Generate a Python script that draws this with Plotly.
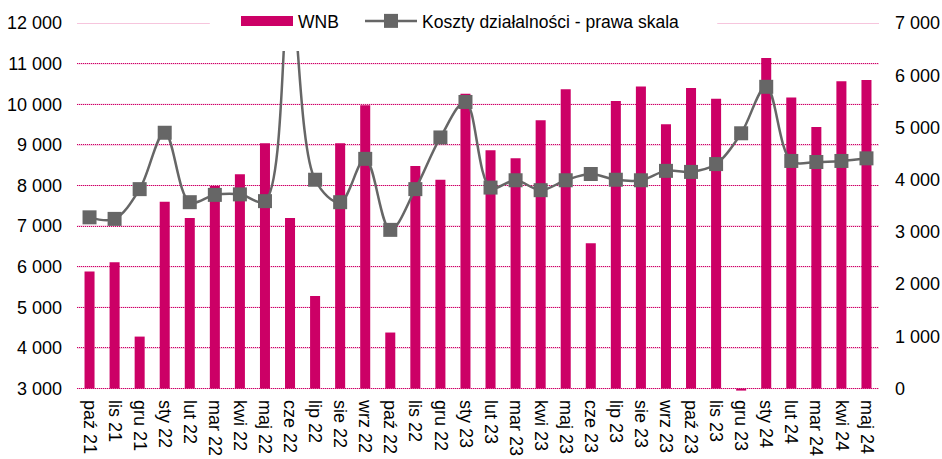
import plotly.graph_objects as go

months = ["paź 21", "lis 21", "gru 21", "sty 22", "lut 22", "mar 22", "kwi 22", "maj 22",
          "cze 22", "lip 22", "sie 22", "wrz 22", "paź 22", "lis 22", "gru 22", "sty 23",
          "lut 23", "mar 23", "kwi 23", "maj 23", "cze 23", "lip 23", "sie 23", "wrz 23",
          "paź 23", "lis 23", "gru 23", "sty 24", "lut 24", "mar 24", "kwi 24", "maj 24"]

wnb = [5880, 6110, 4280, 7600, 7200, 7990, 8280, 9040, 7200, 5280, 9040, 9980, 4380, 8480,
       8140, 10260, 8870, 8670, 9610, 10370, 6580, 10080, 10440, 9510, 10400, 10140, 2950,
       11140, 10170, 9440, 10570, 10600]

koszty = [3280, 3250, 3820, 4900, 3570, 3710, 3720, 3590, 7600, 4000, 3570, 4400, 3040, 3820,
          4810, 5490, 3850, 3990, 3800, 3990, 4110, 4000, 3990, 4170, 4150, 4300, 4890, 5780,
          4360, 4340, 4360, 4410]

left_ticks = [3000, 4000, 5000, 6000, 7000, 8000, 9000, 10000, 11000, 12000]
right_ticks = [0, 1000, 2000, 3000, 4000, 5000, 6000, 7000]

AXIS_CROSS = 3000  # bars grow from the horizontal axis crossing (3 000)
MAG = "#CC0066"
PINK = "#F0A0C8"
GREY = "#666666"
FONT = "Liberation Sans, Arial, sans-serif"
W, H = 942, 459

# axis ranges (slightly padded so that edge gridlines and the sub-axis bar stay visible)
LEFT_RANGE = [2940, 12003]
RATIO = 7000 / 9000
RIGHT_RANGE = [(LEFT_RANGE[0] - 3000) * RATIO, 7000 + (LEFT_RANGE[1] - 12000) * RATIO]

fig = go.Figure()

fig.add_trace(go.Bar(
    x=months, y=[v - AXIS_CROSS for v in wnb], base=AXIS_CROSS,
    customdata=wnb, hovertemplate="%{x}: %{customdata}<extra>WNB</extra>",
    marker=dict(color=MAG, line=dict(width=0)), width=0.4,
    name="WNB", showlegend=False, yaxis="y"))

# legend entry for bars (wide rectangle as in original)
fig.add_trace(go.Scatter(x=[None], y=[None], mode="lines", name="WNB",
                         line=dict(color=MAG, width=10), yaxis="y", hoverinfo="skip",
                         legend="legend"))

fig.add_trace(go.Scatter(
    x=months, y=koszty, mode="lines+markers", name="Koszty działalności - prawa skala",
    line=dict(color=GREY, width=2.5, shape="spline", smoothing=1),
    marker=dict(symbol="square", size=14, color=GREY),
    yaxis="y2", cliponaxis=True, legend="legend2"))

# light pink underlay beneath the dotted magenta gridlines
for t in left_ticks:
    fig.add_shape(type="line", xref="paper", yref="y", x0=0, x1=1, y0=t, y1=t,
                  line=dict(color=PINK, width=1), layer="below")

# white area behind the legend (covers the top gridline and spike, as in the original)
fig.add_shape(type="rect", xref="paper", yref="paper",
              x0=0.1656, x1=0.7983, y0=0.924, y1=1.07,
              fillcolor="white", line=dict(width=0), layer="above")

leg_common = dict(orientation="h", yanchor="middle", xanchor="left",
                  xref="container", yref="container",
                  bgcolor="rgba(0,0,0,0)", borderwidth=0,
                  font=dict(family=FONT, size=17.5, color="#000000"),
                  itemwidth=52)

fig.update_layout(
    width=W, height=H,
    margin=dict(l=77, r=63, t=23, b=68, autoexpand=False),
    paper_bgcolor="white", plot_bgcolor="rgba(0,0,0,0)",
    separators=", ",
    font=dict(family=FONT, size=18, color="#000000"),
    bargap=0.6,
    showlegend=True,
    legend=dict(x=236 / W, y=1 - 21 / H, **leg_common),
    legend2=dict(x=360 / W, y=1 - 21 / H, **leg_common),
    xaxis=dict(type="category", range=[-0.5, len(months) - 0.5], tickangle=90,
               showgrid=False, showline=False, zeroline=False,
               ticks="", ticklabelstandoff=8, tickfont=dict(size=18), automargin=False),
    yaxis=dict(range=LEFT_RANGE, tickvals=left_ticks, tickformat=",.0f",
               showgrid=True, gridcolor=MAG, gridwidth=1, griddash="1px,1px",
               zeroline=False, showline=False, ticks="", ticklabelstandoff=14,
               tickfont=dict(size=18), automargin=False),
    yaxis2=dict(range=RIGHT_RANGE, tickvals=right_ticks, tickformat=",.0f",
                overlaying="y", side="right", showgrid=False, zeroline=False,
                showline=False, ticks="", ticklabelstandoff=15, tickfont=dict(size=18),
                automargin=False),
)

fig.write_html("out.html", config={"displayModeBar": False},
               post_script="document.body.style.margin='0px';document.body.style.overflow='hidden';")
